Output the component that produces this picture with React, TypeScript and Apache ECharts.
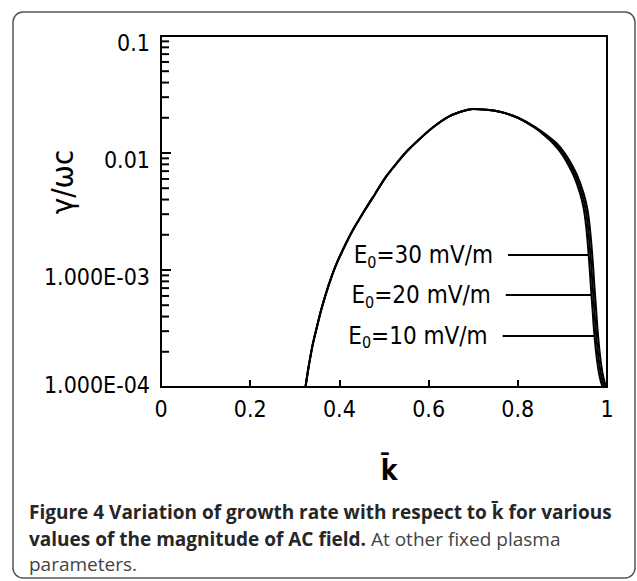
import React, { useEffect, useRef } from "react";
import * as echarts from "echarts";

// ---- data ----
const kShared = [0.324, 0.33, 0.34, 0.35, 0.36, 0.375, 0.39, 0.41, 0.43, 0.455, 0.48, 0.505, 0.53, 0.555, 0.58, 0.61, 0.64, 0.67, 0.7, 0.73, 0.762, 0.8];
const gammaShared = [1.0e-4, 1.41e-4, 2.29e-4, 3.31e-4, 4.68e-4, 7.24e-4, 1.05e-3, 1.55e-3, 2.19e-3, 3.16e-3, 4.47e-3, 6.31e-3, 8.32e-3, 0.0107, 0.0132, 0.0166, 0.02, 0.0224, 0.0238, 0.0234, 0.0224, 0.02];

const tailGamma = [0.0166, 0.0141, 0.012, 0.01, 0.00832, 0.00631, 0.00447, 0.00331, 0.0024, 0.00166, 0.00105, 7.08e-4, 4.37e-4, 3.02e-4, 1.91e-4, 1.38e-4, 1.12e-4, 1.0e-4];
const tailK10 = [0.836, 0.86, 0.88, 0.897, 0.91, 0.926, 0.94, 0.948, 0.953, 0.957, 0.961, 0.964, 0.968, 0.971, 0.976, 0.981, 0.986, 0.99];
const tailK20 = [0.838, 0.863, 0.884, 0.901, 0.914, 0.93, 0.944, 0.952, 0.957, 0.961, 0.965, 0.968, 0.972, 0.975, 0.98, 0.985, 0.99, 0.994];
const tailK30 = [0.84, 0.866, 0.888, 0.905, 0.918, 0.934, 0.948, 0.956, 0.961, 0.965, 0.969, 0.972, 0.976, 0.979, 0.984, 0.989, 0.994, 0.998];

const fieldValues = ["10", "20", "30"];
// annotation anchors (k start, k end, gamma level) for each field label
const annotLevel = [2.73e-4, 6.1e-4, 1.34e-3];
const annotKStart = [0.766, 0.773, 0.778];
const annotKEnd = [0.971, 0.965, 0.958];

const xTickValues = [0, 0.2, 0.4, 0.6, 0.8, 1];
const xTickLabels = ["0", "0.2", "0.4", "0.6", "0.8", "1"];
const yTickValues = [1e-4, 1e-3, 1e-2, 1e-1];
const yTickLabels = ["1.000E-04", "1.000E-03", "0.01", "0.1"];
const minorMultipliers = [2, 3, 4, 5, 6, 7, 8, 9];
const decades = [1e-4, 1e-3, 1e-2];

const FONT = "'DejaVu Sans Condensed', 'DejaVu Sans', sans-serif";
const CAP = "'Open Sans', 'Noto Sans', sans-serif";

function buildSeries(tailK: number[], idx: number) {
  const data: number[][] = [];
  kShared.forEach((k, i) => data.push([k, gammaShared[i]]));
  tailK.forEach((k, i) => data.push([k, tailGamma[i]]));
  return {
    type: "line",
    name: "E0=" + fieldValues[idx] + " mV/m",
    data,
    showSymbol: false,
    symbol: "none",
    smooth: 0.3,
    lineStyle: { color: "#000", width: 2 },
    z: 3,
    markLine: {
      silent: true,
      symbol: "none",
      animation: false,
      lineStyle: { color: "#000", width: 2, type: "solid" },
      label: {
        show: true,
        position: "start",
        distance: 15,
        formatter: "{e|E}{s|0}{e|=" + fieldValues[idx] + " mV/m}",
        rich: {
          e: { fontFamily: FONT, fontSize: 24, color: "#000", lineHeight: 30 },
          s: { fontFamily: FONT, fontSize: 16, color: "#000", lineHeight: 10, verticalAlign: "bottom" },
        },
      },
      data: [[
        { coord: [annotKStart[idx], annotLevel[idx]] },
        { coord: [annotKEnd[idx], annotLevel[idx]] },
      ]],
    },
  };
}

export default function App() {
  const ref = useRef<HTMLDivElement>(null);
  useEffect(() => {
    if (!ref.current) return;
    const chart = echarts.init(ref.current, null, { renderer: "svg" });
    const minorData: number[][] = [];
    decades.forEach((d) => minorMultipliers.forEach((m) => minorData.push([0, d * m])));

    const option: any = {
      animation: false,
      backgroundColor: "#fff",
      grid: {
        left: 161, top: 36, width: 446, height: 351,
        show: true, borderColor: "#000", borderWidth: 2, backgroundColor: "transparent",
      },
      xAxis: {
        type: "value", min: 0, max: 1, interval: 0.2,
        axisLine: { show: true, lineStyle: { color: "#000", width: 2 } },
        axisTick: { show: true, inside: true, length: 7, lineStyle: { color: "#000", width: 2 } },
        axisLabel: {
          margin: 10, fontFamily: FONT, fontSize: 23, color: "#000",
          formatter: (v: number) => {
            const i = xTickValues.findIndex((t) => Math.abs(t - v) < 1e-9);
            return i >= 0 ? xTickLabels[i] : "";
          },
        },
        splitLine: { show: false },
      },
      yAxis: {
        type: "log", logBase: 10, min: 1e-4, max: 0.1,
        axisLine: { show: true, lineStyle: { color: "#000", width: 2 } },
        axisTick: { show: true, inside: true, length: 10, lineStyle: { color: "#000", width: 2 } },
        axisLabel: {
          margin: 11, color: "#000",
          formatter: (v: number) => {
            const i = yTickValues.findIndex((t) => Math.abs(Math.log10(t) - Math.log10(v)) < 1e-6);
            if (i < 0) return "";
            return i === 0 ? "{b|" + yTickLabels[i] + "}" : "{a|" + yTickLabels[i] + "}";
          },
          rich: {
            a: { fontFamily: FONT, fontSize: 23, color: "#000", padding: [14, 0, 0, 0] },
            b: { fontFamily: FONT, fontSize: 23, color: "#000", padding: [0, 0, 4, 0] },
          },
        },
        splitLine: { show: false },
      },
      graphic: [
        {
          type: "rect", silent: true, z: -1,
          shape: { x: 13, y: 12, width: 622, height: 566, r: 10 },
          style: { fill: "none", stroke: "#555", lineWidth: 1.5 },
        },
        {
          type: "text", x: 62, y: 182, rotation: Math.PI / 2,
          style: { text: "γ/ωc", fontFamily: FONT, fontSize: 31, fill: "#000", align: "center", verticalAlign: "middle" },
        },
        {
          type: "text", x: 389, y: 470,
          style: { text: "k\u0304", fontFamily: FONT, fontSize: 28, fontWeight: "bold", fill: "#000", align: "center", verticalAlign: "middle" },
        },
        {
          type: "text", x: 29, y: 512,
          style: {
            text: "{b|Figure 4 Variation of growth rate with respect to k\u0304 for various}",
            verticalAlign: "middle",
            rich: { b: { fontFamily: CAP, fontSize: 19, fontWeight: "bold", fill: "#262626" } },
          },
        },
        {
          type: "text", x: 29, y: 539,
          style: {
            text: "{b|values of the magnitude of AC field.}{r| At other fixed plasma}",
            verticalAlign: "middle",
            rich: {
              b: { fontFamily: CAP, fontSize: 19, fontWeight: "bold", fill: "#262626" },
              r: { fontFamily: CAP, fontSize: 19, fontWeight: "normal", fill: "#444" },
            },
          },
        },
        {
          type: "text", x: 29, y: 564,
          style: {
            text: "{r|parameters.}",
            verticalAlign: "middle",
            rich: { r: { fontFamily: CAP, fontSize: 19, fontWeight: "normal", fill: "#444" } },
          },
        },
      ],
      series: [
        buildSeries(tailK10, 0),
        buildSeries(tailK20, 1),
        buildSeries(tailK30, 2),
        {
          type: "custom",
          silent: true,
          clip: false,
          data: minorData,
          renderItem: (params: any, api: any) => {
            const p = api.coord([api.value(0), api.value(1)]);
            return {
              type: "line",
              shape: { x1: p[0], y1: p[1], x2: p[0] + 8, y2: p[1] },
              style: { stroke: "#000", lineWidth: 2 },
            };
          },
          z: 4,
        },
      ],
    };
    chart.setOption(option);
    return () => chart.dispose();
  }, []);
  return (
    <div
      ref={ref}
      style={{ position: "absolute", left: 0, top: 0, width: 637, height: 581, background: "#fff" }}
    />
  );
}
